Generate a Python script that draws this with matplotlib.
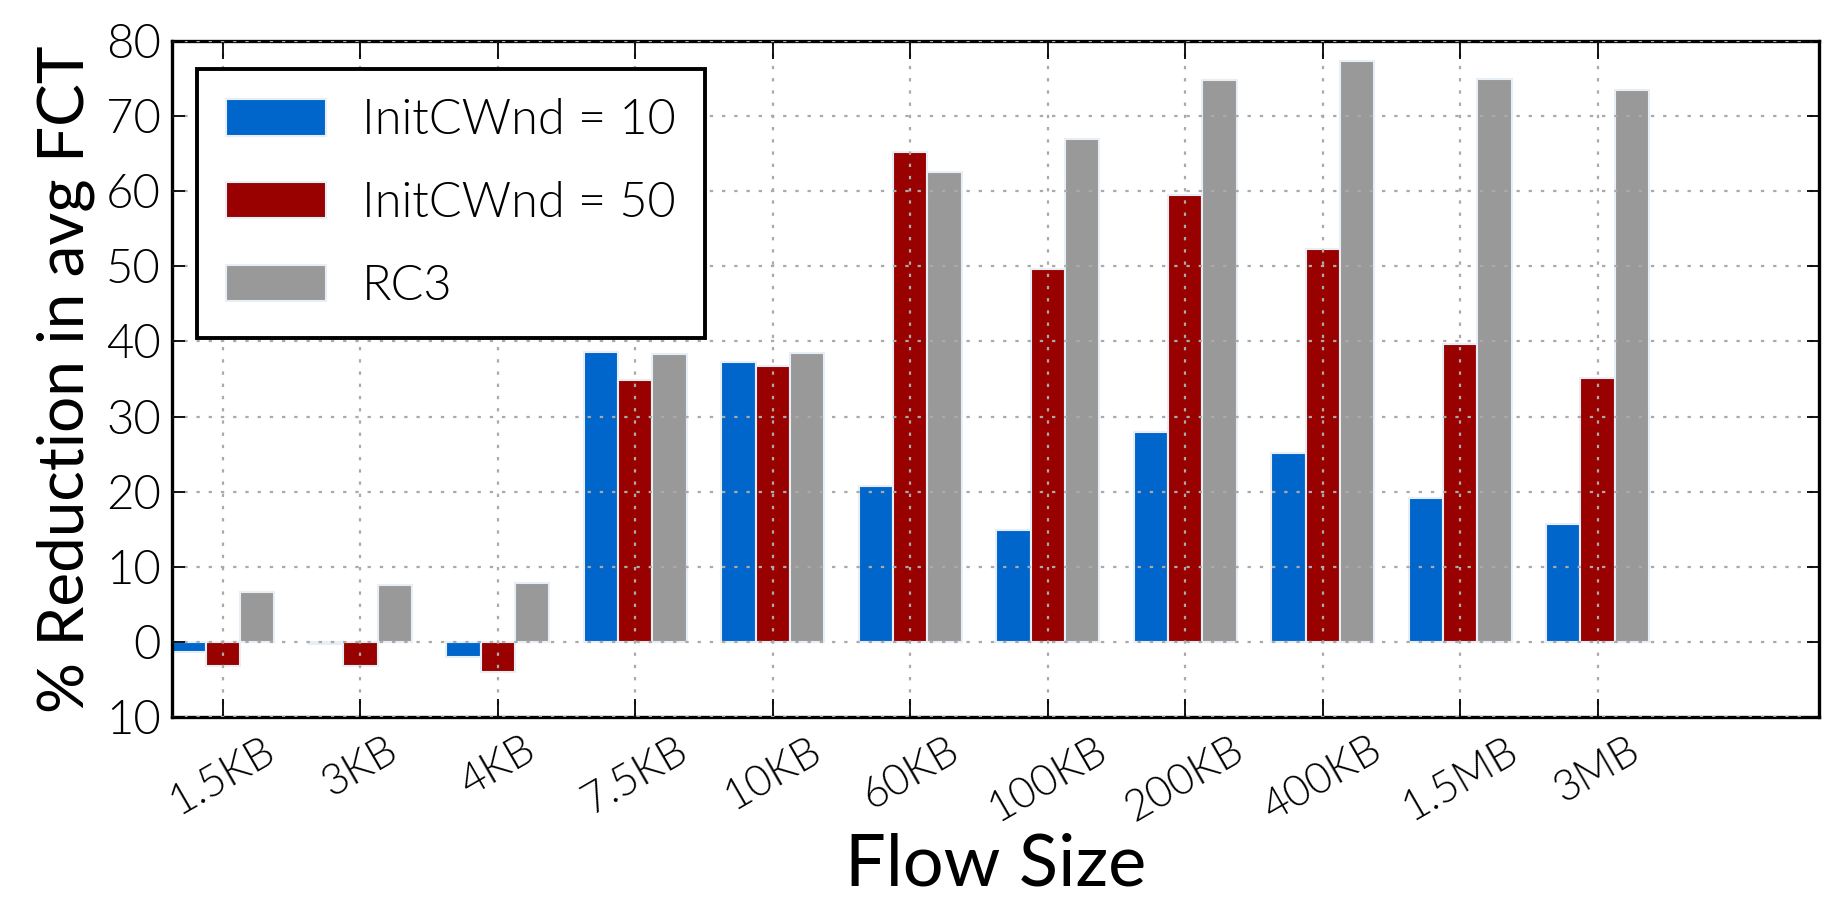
import numpy as np
from matplotlib import pyplot as plt

# data
categories = ['1.5KB', '3KB', '4KB', '7.5KB', '10KB', '60KB', '100KB',
              '200KB', '400KB', '1.5MB', '3MB']
cwnd10 = [-1.4, -0.3, -2.0, 38.6, 37.2, 20.7, 14.9, 28.0, 25.1, 19.2, 15.7]
cwnd50 = [-3.2, -3.2, -4.0, 34.9, 36.7, 65.2, 49.6, 59.5, 52.3, 39.7, 35.1]
rc3 = [6.6, 7.6, 7.8, 38.3, 38.4, 62.5, 66.9, 74.8, 77.3, 75.0, 73.5]
series_names = ['InitCWnd = 10', 'InitCWnd = 50', 'RC3']
ytick_vals = [-10, 0, 10, 20, 30, 40, 50, 60, 70, 80]
ytick_text = ['10', '0', '10', '20', '30', '40', '50', '60', '70', '80']

colors = ['#0066cc', '#990000', '#999999']
plt.rcParams['font.family'] = ['Lato', 'DejaVu Sans']
plt.rcParams['font.weight'] = 300

fig = plt.figure(figsize=(18.25, 9.15), dpi=100)
ax = fig.add_axes([172/1825, 1-717/915, (1819-172)/1825, (717-41)/915])

ind = np.arange(len(categories))
w = 0.25
for i, vals in enumerate([cwnd10, cwnd50, rc3]):
    ax.bar(ind + (i-1)*w, vals, w, color=colors[i], edgecolor='#e8eef5',
           linewidth=1.5, label=series_names[i])

ax.set_xlim(-0.37, 11.61)
ax.set_ylim(-10, 80)
ax.set_xticks(ind)
ax.set_xticklabels(categories, rotation=30, ha='center', fontsize=31)
ax.set_yticks(ytick_vals)
ax.set_yticklabels(ytick_text, fontsize=34)

ax.set_axisbelow(False)
ax.grid(True, linestyle=(0, (1.5, 4)), color='#aaaaaa', linewidth=1.6)

for s in ax.spines.values():
    s.set_linewidth(2.4)
ax.tick_params(axis='x', direction='in', length=13, width=1.3, top=True, pad=10)
ax.tick_params(axis='y', direction='in', length=9, width=1.3, right=True, pad=8)

ax.set_xlabel('Flow Size', fontsize=52, labelpad=2)
ax.set_ylabel('% Reduction in avg FCT', fontsize=46, labelpad=8)

leg = ax.legend(loc='upper left', bbox_to_anchor=(197/1825, 1-69/915),
                bbox_transform=fig.transFigure, borderaxespad=0,
                fontsize=35, fancybox=False, framealpha=1,
                handlelength=2.05, handleheight=0.78, handletextpad=0.75,
                labelspacing=0.78, borderpad=0.6)
leg.get_frame().set_edgecolor('black')
leg.get_frame().set_linewidth(2.8)

fig.savefig('out.png', dpi=100)
